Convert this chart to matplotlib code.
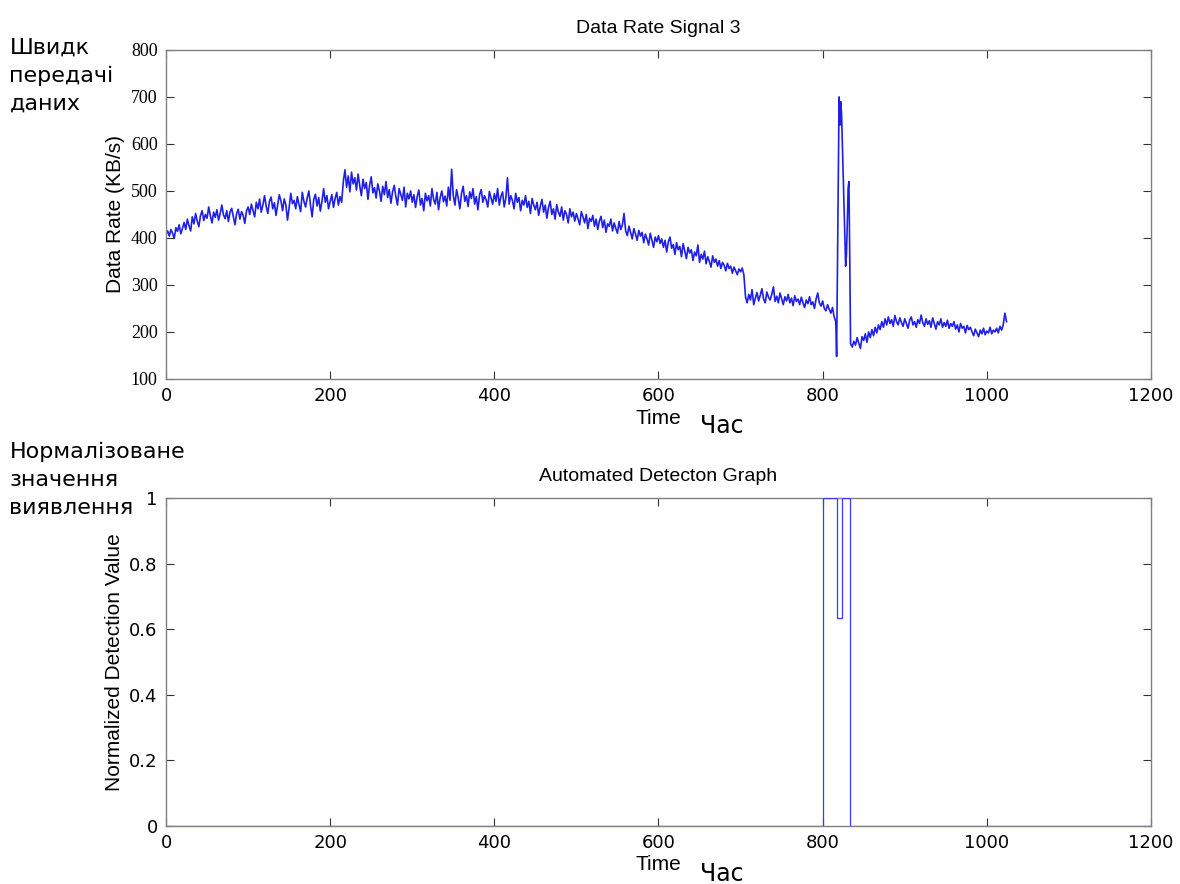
import numpy as np
from matplotlib import pyplot as plt

# data rate samples (KB/s), every 2 time units
rate_000 = [408, 415, 404, 418, 410, 399, 422, 414, 428, 409,
            420, 433, 418, 440, 426, 415, 445, 430, 452, 436,
            424, 448, 458, 437, 450, 442, 466, 447, 432, 455,
            444, 460, 438, 452, 470, 449, 441, 458, 435, 455,
            463, 446, 428, 452, 461, 440, 456, 448, 431, 457]
rate_100 = [466, 450, 472, 458, 445, 476, 462, 483, 455, 470,
            490, 468, 452, 478, 487, 462, 475, 448, 470, 492,
            479, 458, 483, 470, 438, 465, 495, 473, 480, 462,
            488, 471, 456, 497, 478, 466, 485, 500, 470, 445,
            482, 493, 468, 486, 457, 478, 505, 476, 490, 462]
rate_200 = [478, 492, 465, 484, 497, 470, 488, 476,
            520, 545, 508, 532, 498, 540, 515, 528, 502, 536,
            511, 490, 525, 505, 518, 482, 512, 530, 496, 507,
            485, 515, 500, 478, 510, 492, 520, 486, 503, 474,
            498, 512, 488, 470, 505, 493, 480, 508, 466, 495,
            483, 500]
rate_300 = [476, 492, 465, 488, 502, 470, 484, 458, 495, 479,
            490, 468, 505, 482, 472, 497, 460, 486, 500, 477,
            489, 468, 508, 480, 546, 490, 470, 503, 485, 462,
            495, 510, 478, 490, 467, 498, 484, 505, 472, 488,
            460, 492, 503, 476, 490, 481, 466, 499, 485, 472]
rate_400 = [494, 478, 505, 470, 488, 498, 466, 485, 528, 472,
            490, 480, 462, 495, 476, 486, 458, 480, 470, 490,
            465, 478, 452, 484, 470, 460, 476, 448, 468, 482,
            455, 470, 442, 465, 478, 450, 462, 440, 471, 455,
            446, 466, 438, 458, 450, 432, 462, 445, 455, 436]
rate_500 = [452, 440, 428, 456, 445, 432, 450, 420, 442, 435,
            448, 425, 440, 418, 436, 446, 422, 438, 412, 430,
            425, 440, 415, 432, 420, 410, 435, 418, 428, 452,
            415, 405, 425, 412, 398, 420, 408, 395, 416, 404,
            412, 390, 408, 398, 385, 410, 395, 380, 402, 392]
rate_600 = [405, 388, 398, 380, 395, 370, 392, 402, 378, 386,
            365, 390, 375, 382, 360, 388, 372, 356, 380, 368,
            375, 352, 370, 362, 385, 348, 365, 355, 372, 345,
            360, 350, 338, 362, 348, 355, 340, 352, 335, 348,
            342, 330, 346, 335, 340, 325, 338, 330, 322, 334]
rate_700 = [328, 336, 322,
            275, 262, 280, 268, 290, 258, 272, 284, 266, 278,
            292, 270, 262, 285, 274, 268, 280, 296, 265, 276,
            262, 283, 271, 258, 275, 266, 280, 262, 272, 256,
            277, 265, 270, 258, 274, 262, 252, 268, 260, 275,
            258, 264, 250, 270, 283, 262, 255, 266, 250, 245, 258,
            248, 240, 252, 232]
# the burst, sampled every time unit
t_burst = [816, 817, 820, 821, 822, 823, 824, 825, 826, 827, 828, 829,
           830, 831, 832, 833, 834]
rate_burst = [222, 148, 700, 640, 690, 665, 600, 540, 470, 400, 340, 365,
              430, 505, 520, 360, 175]
rate_836 = [168, 180, 172, 188, 176, 165, 190, 182, 196, 178,
            200, 188, 205, 192, 210, 198, 215, 205, 222, 210, 228, 215,
            232, 218, 226, 212, 235, 222, 215, 230, 220, 212,
            228, 218, 208, 225, 232, 215, 222, 210, 226, 218,
            236, 220, 212, 228, 216, 224, 210, 230, 218, 206,
            222, 215, 228, 210, 220, 212, 225, 208, 218, 212,
            222, 206, 215, 200, 218, 208, 212, 198, 214, 205,
            210, 200, 192, 206, 198, 190, 204, 196, 208, 194,
            202, 198, 210, 196, 204, 200, 208, 198, 212, 204,
            215, 240, 222]

# detection output
t_det = [0, 800, 800, 817, 817, 824, 824, 833, 833, 1200]
det = [0, 0, 1, 1, 0.635, 0.635, 1, 1, 0, 0]

time = (list(range(0, 815, 2)) + t_burst + list(range(836, 1025, 2)))
rate = (rate_000 + rate_100 + rate_200 + rate_300 + rate_400 + rate_500
        + rate_600 + rate_700 + rate_burst + rate_836)
time = np.array(time)
rate = np.array(rate)

xticks = [0, 200, 400, 600, 800, 1000, 1200]
frame = '#808080'
blue = '#1f1fe6'
sans = 'Liberation Sans'

fig = plt.figure(figsize=(11.8, 8.84), dpi=100)
ax1 = fig.add_axes([0.1407, 0.5713, 0.8347, 0.3722])
ax2 = fig.add_axes([0.1407, 0.0656, 0.8347, 0.3711])

ax1.plot(time, rate, color=blue, lw=1.2)
ax1.set_xlim(0, 1200)
ax1.set_ylim(100, 800)
ax1.set_xticks(xticks)
ax1.set_yticks(range(100, 801, 100))
ax1.set_title('Data Rate Signal 3', fontsize=14, family=sans, pad=12)
ax1.set_ylabel('Data Rate (KB/s)', fontsize=15, family=sans, labelpad=4)
ax1.set_xlabel('Time', fontsize=15, family=sans, labelpad=3)
for lab in ax1.get_yticklabels():
    lab.set_family('Liberation Serif')

ax2.plot(t_det, det, color='#3a3aff', lw=0.9, zorder=3)
ax2.set_xlim(0, 1200)
ax2.set_ylim(0, 1)
ax2.set_xticks(xticks)
ax2.set_yticks([0, 0.2, 0.4, 0.6, 0.8, 1])
ax2.set_yticklabels(['0', '0.2', '0.4', '0.6', '0.8', '1'])
ax2.set_title('Automated Detecton Graph', fontsize=14, family=sans, pad=12)
ax2.set_ylabel('Normalized Detection Value', fontsize=15, family=sans, labelpad=4)
ax2.set_xlabel('Time', fontsize=15, family=sans, labelpad=2)

for ax in (ax1, ax2):
    ax.tick_params(direction='in', length=6, top=True, right=True,
                   labelsize=13, color='#333333', pad=6)
    for s in ax.spines.values():
        s.set_color(frame)
        s.set_linewidth(1.0)

# Ukrainian annotations, one line each
for txt, ypx in [('Швидк', 48), ('передачі', 76), ('даних', 104),
                 ('Нормалізоване', 452), ('значення', 480), ('виявлення', 508)]:
    fig.text(0.008, 1 - ypx / 884, txt, fontsize=16, va='center', ha='left',
             family='DejaVu Sans')
fig.text(0.593, 1 - 426 / 884, 'Час', fontsize=17, family='DejaVu Sans', va='center')
fig.text(0.593, 1 - 874 / 884, 'Час', fontsize=17, family='DejaVu Sans', va='center')

fig.savefig('out.png', dpi=100)
